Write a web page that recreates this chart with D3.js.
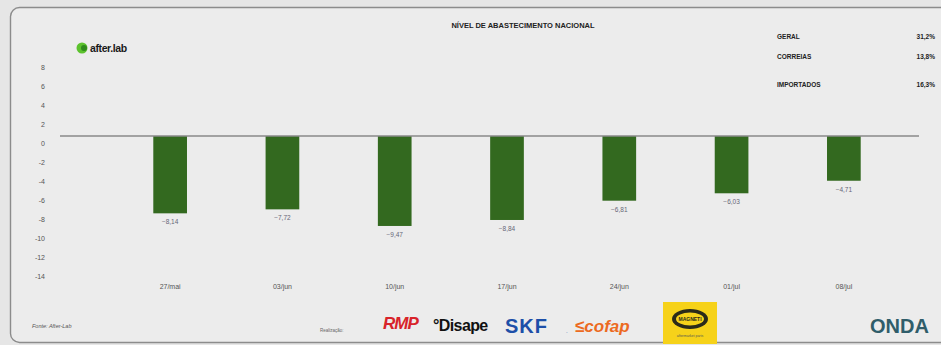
<!DOCTYPE html>
<html>
<head>
<meta charset="utf-8">
<script src="https://cdn.jsdelivr.net/npm/d3@7/dist/d3.min.js"></script>
<style>
  html, body { margin: 0; padding: 0; background: #e6e6e6; }
  svg { display: block; font-family: "Liberation Sans", Arial, sans-serif; }
</style>
</head>
<body>
<svg id="chart" width="941" height="345"></svg>
<script>
// Weekly national supply level (% change)
const weeks = ["27/mai", "03/jun", "10/jun", "17/jun", "24/jun", "01/jul", "08/jul"];
const supplyLevel = [-8.14, -7.72, -9.47, -8.84, -6.81, -6.03, -4.71];
const yTicks = [8, 6, 4, 2, 0, -2, -4, -6, -8, -10, -12, -14];

// Summary table in the top-right corner
const summaryNames = ["GERAL", "CORREIAS", "IMPORTADOS"];
const summaryValues = ["31,2%", "13,8%", "16,3%"];

const svg = d3.select("#chart");

// card frame
svg.append("rect")
  .attr("x", 10.5).attr("y", 7.5)
  .attr("width", 945).attr("height", 335)
  .attr("rx", 9)
  .attr("fill", "#ececec")
  .attr("stroke", "#8c8c8c")
  .attr("stroke-width", 1.4);

const x = d3.scaleBand()
  .domain(weeks)
  .range([114, 900])
  .paddingInner(0.7)
  .paddingOuter(0.35);

const y = d3.scaleLinear()
  .domain([-14, 8])
  .range([269, 60]);

const fmt = v => d3.format(".2f")(v).replace(".", ",").replace("-", "-");

// y axis: labels only, sitting just below their tick value
const yAxis = d3.axisLeft(y).tickValues(yTicks).tickSize(0).tickPadding(0)
  .tickFormat(d => d3.format("d")(d).replace("−", "-"));
const gy = svg.append("g").attr("transform", "translate(45,0)").call(yAxis);
gy.select(".domain").remove();
gy.selectAll("text")
  .attr("dy", "1.35em")
  .attr("fill", "#555")
  .style("font-size", "7px");

// bars
svg.append("g").selectAll("rect")
  .data(supplyLevel)
  .join("rect")
  .attr("x", (d, i) => x(weeks[i]))
  .attr("width", x.bandwidth())
  .attr("y", y(0))
  .attr("height", d => y(d) - y(0))
  .attr("fill", "#33691f");

// value labels under each bar
svg.append("g").selectAll("text")
  .data(supplyLevel)
  .join("text")
  .attr("x", (d, i) => x(weeks[i]) + x.bandwidth() / 2)
  .attr("y", d => y(d) + 11)
  .attr("text-anchor", "middle")
  .attr("fill", "#666677")
  .style("font-size", "6.5px")
  .text(d => fmt(d));

// zero line
svg.append("line")
  .attr("x1", 60).attr("x2", 919)
  .attr("y1", y(0)).attr("y2", y(0))
  .attr("stroke", "#8a8a8a")
  .attr("stroke-width", 1.5);

// x axis labels
const xAxis = d3.axisBottom(x).tickSize(0).tickPadding(0);
const gx = svg.append("g").attr("transform", "translate(0,289)").call(xAxis);
gx.select(".domain").remove();
gx.selectAll("text")
  .attr("dy", 0)
  .attr("fill", "#555")
  .style("font-size", "7px");

// title
svg.append("text")
  .attr("x", 523).attr("y", 28)
  .attr("text-anchor", "middle")
  .attr("fill", "#222")
  .style("font-size", "7.5px")
  .style("font-weight", "bold")
  .text("NÍVEL DE ABASTECIMENTO NACIONAL");

// summary table
const rowY = [39, 59, 87];
svg.append("g").selectAll("text")
  .data(summaryNames)
  .join("text")
  .attr("x", 777).attr("y", (d, i) => rowY[i])
  .attr("fill", "#222")
  .style("font-size", "6.5px")
  .style("font-weight", "bold")
  .text(d => d);
svg.append("g").selectAll("text")
  .data(summaryValues)
  .join("text")
  .attr("x", 935).attr("y", (d, i) => rowY[i])
  .attr("text-anchor", "end")
  .attr("fill", "#222")
  .style("font-size", "6.5px")
  .style("font-weight", "bold")
  .text(d => d);

// after.lab brand
const brand = svg.append("g").attr("transform", "translate(82,48)");
brand.append("circle").attr("r", 5.5).attr("fill", "#5cc22e");
brand.append("circle").attr("cx", 2).attr("r", 3).attr("fill", "#2f8a1c");
brand.append("text")
  .attr("x", 8).attr("y", 3.5)
  .attr("fill", "#1a1a1a")
  .style("font-size", "10.5px")
  .style("font-weight", "bold")
  .style("letter-spacing", "-0.4px")
  .text("after.lab");

// source note
svg.append("text")
  .attr("x", 32).attr("y", 328)
  .attr("fill", "#555")
  .style("font-size", "5.5px")
  .style("font-style", "italic")
  .text("Fonte: After-Lab");

// sponsors
svg.append("text")
  .attr("x", 320).attr("y", 332)
  .attr("fill", "#666")
  .style("font-size", "4.5px")
  .text("Realização:");

svg.append("text")
  .attr("x", 383).attr("y", 329)
  .attr("fill", "#d8232a")
  .style("font-size", "17px")
  .style("font-weight", "bold")
  .style("font-style", "italic")
  .style("letter-spacing", "-1px")
  .text("RMP");

svg.append("text")
  .attr("x", 433).attr("y", 331)
  .attr("fill", "#111")
  .style("font-size", "16px")
  .style("font-weight", "bold")
  .style("letter-spacing", "-0.6px")
  .text("°Disape");

svg.append("text")
  .attr("x", 505).attr("y", 333)
  .attr("fill", "#1c4fa8")
  .style("font-size", "20px")
  .style("font-weight", "bold")
  .style("letter-spacing", "1px")
  .text("SKF");
svg.append("text")
  .attr("x", 566).attr("y", 333)
  .attr("fill", "#1c4fa8")
  .style("font-size", "6px")
  .text(".");

svg.append("text")
  .attr("x", 575).attr("y", 332)
  .attr("fill", "#ec6a21")
  .style("font-size", "17px")
  .style("font-weight", "bold")
  .style("font-style", "italic")
  .text("≤cofap");

const mm = svg.append("g").attr("transform", "translate(663,302)");
mm.append("rect").attr("width", 54).attr("height", 42).attr("fill", "#f6d21a");
mm.append("ellipse").attr("cx", 27).attr("cy", 17).attr("rx", 18).attr("ry", 10)
  .attr("fill", "#2a2a1a");
mm.append("ellipse").attr("cx", 27).attr("cy", 17).attr("rx", 14).attr("ry", 6.5)
  .attr("fill", "#f6d21a");
mm.append("text").attr("x", 27).attr("y", 19).attr("text-anchor", "middle")
  .attr("fill", "#2a2a1a").style("font-size", "5px").style("font-weight", "bold")
  .text("MAGNETI");
mm.append("text").attr("x", 27).attr("y", 35).attr("text-anchor", "middle")
  .attr("fill", "#555").style("font-size", "3.5px")
  .text("aftermarket parts");

svg.append("text")
  .attr("x", 870).attr("y", 333)
  .attr("fill", "#2f5d6a")
  .style("font-size", "20px")
  .style("font-weight", "bold")
  .text("ONDA");
</script>
</body>
</html>
